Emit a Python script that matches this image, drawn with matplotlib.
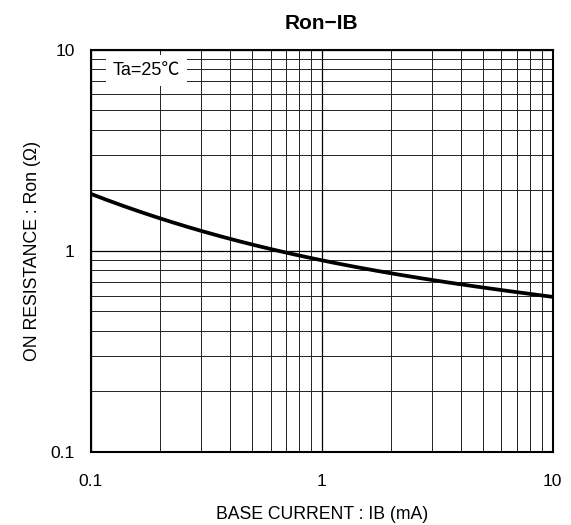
import numpy as np
import matplotlib
matplotlib.use("Agg")
import matplotlib.pyplot as plt
from matplotlib.ticker import LogLocator, NullFormatter, FixedLocator, FixedFormatter

plt.rcParams['font.family'] = ['Liberation Sans', 'Noto Sans CJK JP', 'DejaVu Sans']

# Ron-IB curve (Ta = 25 C)
base_current = [0.1, 0.2, 0.3, 0.5, 1, 2, 3, 5, 10]          # mA
on_resistance = [1.92, 1.45, 1.27, 1.07, 0.895, 0.775, 0.717, 0.66, 0.59]  # ohm

tick_vals = [0.1, 1, 10]
tick_labels = ['0.1', '1', '10']

fig = plt.figure(figsize=(5.71, 5.25), dpi=100)
ax = fig.add_axes([0.159, 0.139, 0.809, 0.766])

# smooth line through the read points, in log-log space
lx = np.log10(base_current)
ly = np.log10(on_resistance)
coef = np.polyfit(lx, ly, 3)
xs = np.linspace(lx[0], lx[-1], 200)
ax.plot(10 ** xs, 10 ** np.polyval(coef, xs), color='black', linewidth=2.7, zorder=3)

ax.set_xscale('log')
ax.set_yscale('log')
ax.set_xlim(0.1, 10)
ax.set_ylim(0.1, 10)

for axis in (ax.xaxis, ax.yaxis):
    axis.set_major_locator(FixedLocator(tick_vals))
    axis.set_major_formatter(FixedFormatter(tick_labels))
    axis.set_minor_locator(LogLocator(base=10, subs=np.arange(2, 10)))
    axis.set_minor_formatter(NullFormatter())

ax.grid(True, which='major', color='black', linewidth=0.9)
ax.grid(True, which='minor', color='#222222', linewidth=0.7)
ax.tick_params(which='both', length=0, labelsize=12.5)
ax.tick_params(axis='x', pad=16)
ax.tick_params(axis='y', pad=11.5)

for sp in ax.spines.values():
    sp.set_linewidth(1.5)

ax.set_title('Ron−IB', fontsize=15, fontweight='bold', pad=15)
ax.set_xlabel('BASE CURRENT : IB (mA)', fontsize=12.7, labelpad=12)
ax.set_ylabel('ON RESISTANCE : Ron (Ω)', fontsize=12.7, labelpad=7)

# condition label in a white box over the grid
ax.text(0.124, 7.9, 'Ta=25℃', fontsize=13, va='center', ha='left', zorder=4,
        bbox=dict(facecolor='white', edgecolor='none', pad=5))

fig.savefig('out.png', dpi=100)
